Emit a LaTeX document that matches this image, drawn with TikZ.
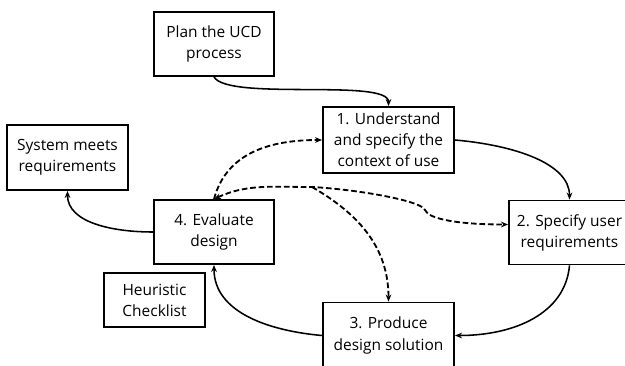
\documentclass[tikz,border=0pt]{standalone}
\usepackage{fontspec}
\setmainfont{Open Sans}
\usetikzlibrary{arrows.meta}
\newcommand{\stgfont}{\fontsize{11}{15}\selectfont}

\begin{document}
\begin{tikzpicture}[stg/.style={draw, line width=1.3pt, align=center, inner sep=1pt, font=\stgfont, minimum height=1.6cm},flowarr/.style={-{Stealth[length=5pt, width=4pt]}, line width=1.1pt},darr/.style={flowarr, dash pattern=on 4pt off 2pt, line width=1.3pt}]
\useasboundingbox (0,0) rectangle (15.625,-9.125);
\clip (0,0) rectangle (15.625,-9.125);
\node[stg, minimum width=3cm] (plan) at (5.35,-1.1) {Plan the UCD\\process};
\node[stg, minimum width=3.275cm, minimum height=1.65cm] (box1) at (9.7125,-3.5) {1. Understand\\and specify the\\context of use};
\node[stg, minimum width=3.025cm, minimum height=1.625cm] (sys) at (1.6875,-3.9375) {System meets\\requirements};
\node[stg, minimum width=3cm] (box4) at (5.35,-5.8) {4. Evaluate\\design};
\node[stg, minimum width=3.025cm] (box2) at (14.2375,-5.8125) {2. Specify user\\requirements};
\node[stg, minimum width=3.275cm, minimum height=1.65cm] (box3) at (9.7125,-8.3875) {3. Produce\\design solution};
\node[stg, minimum width=2.525cm, minimum height=1.35cm] (heur) at (3.8625,-7.5) {Heuristic\\Checklist};
\draw[flowarr] (plan.south) to[out=-60, in=90, out distance=0.7cm, in distance=0.7cm] (box1.north);
\draw[flowarr] (box1.east) to[out=-5, in=90, out distance=1.5cm, in distance=0.9cm] (box2.north);
\draw[flowarr] (box2.south) to[out=-95, in=0, out distance=1.2cm, in distance=1.5cm] (box3.east);
\draw[flowarr] (box3.west) to[out=175, in=-90, out distance=1.3cm, in distance=1.2cm] (box4.south);
\draw[flowarr] (box4.west) to[out=180, in=-90, out distance=1cm, in distance=0.8cm] (sys.south);
\coordinate (hub) at (7.8,-4.675);
\coordinate (kink) at (10.625,-5.25);
\draw[darr] (box4.north) to[out=75, in=180, out distance=1.2cm, in distance=1.3cm] (box1.west);
\draw[darr, {Stealth[length=5pt, width=4pt]}-{Stealth[length=5pt, width=4pt]}] (box4.north) to[out=25, in=180, out distance=0.9cm, in distance=1cm] (hub) to[out=-3, in=110, out distance=1.1cm, in distance=0.25cm] (kink) to[out=-70, in=180, out distance=0.25cm, in distance=1.2cm] ([yshift=0.2cm]box2.west);
\draw[darr] (hub) to[out=-30, in=90, out distance=1.35cm, in distance=1.35cm] (box3.north);
\end{tikzpicture}
\end{document}
